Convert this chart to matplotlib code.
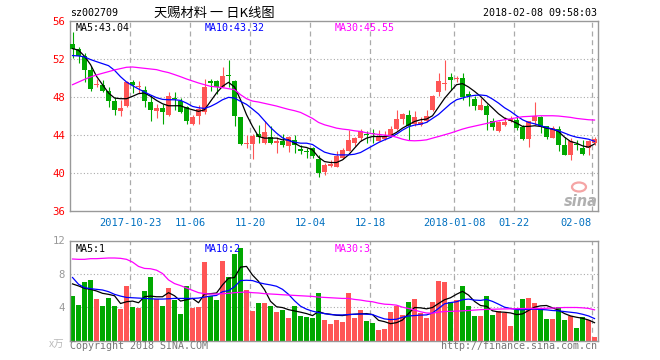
import matplotlib
matplotlib.use("Agg")
import matplotlib.pyplot as plt
from matplotlib.patches import Ellipse
import numpy as np

# ------------------------------------------------------------------ #
#  Data (price in 元, volume in 万手)                #
# ------------------------------------------------------------------ #

opens = [53.58, 53.05, 52.25, 50.77, 49.22, 49.26, 48.63, 47.58, 46.46, 47.05,
         49.51, 49.05, 48.74, 47.40, 46.46, 46.77, 46.07, 47.86, 47.50, 46.90,
         45.16, 45.93, 46.35, 49.60, 49.68, 49.02, 50.25, 49.68, 45.82, 43.00,
         43.05, 44.10, 43.12, 43.75, 43.12, 43.40, 42.84, 43.47, 42.53, 42.20,
         42.60, 41.47, 40.14, 40.74, 40.60, 41.54, 42.35, 43.19, 43.65, 44.10,
         44.12, 43.30, 43.54, 43.89, 44.60, 45.65, 46.10, 45.16, 45.05, 45.40,
         46.56, 48.46, 49.30, 50.07, 49.85, 49.96, 48.28, 47.75, 46.63, 47.05,
         45.50, 44.35, 45.05, 45.40, 45.58, 44.80, 43.54, 45.50, 45.86, 44.88,
         43.65, 44.60, 42.95, 41.90, 43.05, 42.60, 42.60, 43.12]
closes = [53.05, 52.25, 50.77, 48.84, 49.30, 48.63, 47.50, 46.56, 46.84, 49.51,
          49.20, 49.12, 47.51, 46.56, 46.77, 46.35, 48.04, 47.78, 46.35, 45.40,
          45.86, 46.74, 49.02, 49.44, 49.02, 50.20, 50.18, 45.93, 43.05, 43.05,
          43.89, 43.75, 44.25, 43.12, 43.40, 42.88, 43.75, 42.88, 42.25, 42.15,
          41.80, 40.03, 40.84, 40.95, 41.82, 42.42, 43.47, 43.65, 44.35, 44.00,
          44.05, 43.89, 43.89, 44.60, 45.65, 46.20, 44.95, 45.86, 45.30, 46.00,
          48.10, 49.61, 49.40, 49.72, 49.96, 47.93, 48.04, 47.05, 47.16, 46.03,
          44.77, 45.30, 45.30, 45.65, 44.70, 43.54, 45.40, 46.00, 44.88, 43.82,
          44.70, 42.95, 41.90, 43.40, 42.88, 42.00, 43.40, 43.54]
highs = [54.77, 53.20, 52.60, 51.20, 49.86, 49.80, 49.00, 48.00, 47.68, 49.60,
         49.80, 49.60, 49.09, 48.20, 47.26, 47.20, 48.46, 48.46, 47.86, 47.05,
         46.10, 47.16, 49.86, 49.86, 49.80, 51.12, 51.82, 49.80, 45.82, 44.00,
         44.10, 45.05, 45.50, 44.95, 43.75, 44.10, 43.90, 44.00, 42.95, 42.60,
         42.70, 41.90, 41.00, 41.37, 42.25, 42.60, 44.46, 43.75, 44.63, 44.42,
         44.60, 44.53, 44.35, 44.88, 46.63, 46.28, 46.63, 46.46, 45.86, 46.56,
         48.20, 50.50, 51.82, 50.50, 50.20, 50.50, 48.63, 48.04, 47.86, 47.26,
         45.75, 45.40, 45.86, 46.00, 46.00, 45.05, 45.40, 47.40, 46.00, 44.95,
         44.88, 44.88, 43.82, 43.65, 43.47, 43.47, 43.47, 43.75]
lows = [52.07, 51.54, 49.54, 48.63, 49.02, 48.46, 46.88, 46.10, 46.00, 46.88,
        48.40, 48.40, 46.91, 45.50, 45.72, 45.12, 45.93, 46.60, 46.28, 45.10,
        45.05, 45.12, 46.20, 48.60, 48.30, 49.00, 49.00, 44.95, 42.95, 42.60,
        41.44, 43.12, 43.05, 43.05, 42.14, 42.70, 42.18, 42.14, 42.00, 41.60,
        41.54, 39.60, 39.80, 40.60, 40.60, 41.44, 42.25, 42.84, 43.40, 43.12,
        43.10, 43.30, 43.47, 43.75, 44.46, 45.16, 43.47, 44.95, 44.88, 45.30,
        46.46, 48.04, 48.67, 48.74, 49.50, 47.68, 47.05, 46.63, 46.56, 44.46,
        44.46, 44.25, 44.88, 45.30, 44.46, 43.47, 42.70, 45.05, 44.18, 43.54,
        43.65, 42.35, 41.90, 41.37, 42.42, 41.90, 41.90, 42.95]

ma5 = [53.05, 52.88, 52.25, 51.37, 50.14, 49.26, 48.39, 47.86, 47.79, 47.79,
       48.04, 48.32, 48.39, 48.04, 47.61, 47.26, 47.05, 47.05, 47.05, 46.81,
       46.63, 46.46, 46.63, 47.51, 48.39, 49.09, 49.51, 49.02, 47.68, 46.11,
       44.88, 43.82, 43.65, 43.65, 43.65, 43.47, 43.47, 43.12, 42.77, 42.67,
       42.42, 41.65, 41.19, 41.09, 41.09, 41.37, 41.89, 42.60, 43.30, 43.65,
       43.82, 43.82, 43.82, 43.90, 44.25, 44.70, 45.05, 45.40, 45.58, 45.65,
       46.00, 46.91, 47.82, 48.56, 49.26, 49.37, 49.02, 48.56, 48.04, 47.40,
       46.81, 46.21, 45.75, 45.51, 45.23, 44.88, 44.88, 44.95, 44.88, 44.70,
       44.60, 44.35, 43.75, 43.30, 43.12, 42.84, 42.70, 43.04]
ma10 = [52.32, 52.28, 52.18, 51.90, 51.68, 51.47, 51.26, 50.77, 50.10, 49.54,
        49.16, 48.81, 48.49, 48.18, 47.90, 47.72, 47.68, 47.68, 47.61, 47.33,
        46.98, 46.84, 46.77, 46.98, 47.30, 47.68, 47.93, 47.86, 47.51, 47.19,
        46.70, 46.18, 45.47, 44.77, 44.18, 43.68, 43.40, 43.23, 43.12, 43.12,
        42.98, 42.56, 42.18, 42.00, 41.89, 41.89, 41.89, 41.96, 42.14, 42.49,
        42.84, 43.19, 43.47, 43.72, 44.07, 44.49, 44.84, 45.02, 45.12, 45.30,
        45.72, 46.14, 46.70, 47.26, 47.68, 47.86, 48.04, 48.14, 48.18, 48.11,
        47.75, 47.33, 46.84, 46.46, 46.00, 45.58, 45.30, 45.16, 44.95, 44.77,
        44.60, 44.42, 44.18, 43.93, 43.75, 43.65, 43.54, 43.32]
ma30 = [49.26, 49.54, 49.82, 50.07, 50.28, 50.46, 50.63, 50.81, 50.95, 51.09,
        51.12, 51.05, 50.98, 50.91, 50.84, 50.67, 50.53, 50.32, 50.10, 49.86,
        49.65, 49.44, 49.26, 49.09, 49.02, 48.95, 48.84, 48.74, 48.21, 47.79,
        47.54, 47.44, 47.30, 47.16, 47.02, 46.84, 46.67, 46.53, 46.35, 46.04,
        45.72, 45.30, 45.05, 44.88, 44.70, 44.60, 44.53, 44.42, 44.35, 44.21,
        44.11, 44.04, 43.97, 43.90, 43.75, 43.54, 43.40, 43.37, 43.40, 43.47,
        43.65, 43.82, 44.00, 44.18, 44.39, 44.60, 44.77, 44.91, 45.05, 45.19,
        45.33, 45.47, 45.58, 45.68, 45.79, 45.90, 45.93, 45.97, 46.00, 46.00,
        46.00, 45.97, 45.90, 45.83, 45.72, 45.65, 45.58, 45.55]

volume = [5.33, 4.24, 7.03, 7.27, 4.97, 4.12, 5.09, 4.12, 3.76, 6.55,
          4.00, 3.88, 5.94, 7.64, 4.97, 4.12, 6.30, 4.85, 3.13, 6.55,
          3.88, 4.00, 9.45, 5.33, 4.85, 9.58, 7.62, 10.42, 11.15, 6.06,
          3.52, 4.48, 4.48, 4.12, 3.39, 3.64, 2.67, 4.12, 2.91, 2.79,
          2.67, 5.70, 2.42, 1.94, 2.42, 2.18, 5.70, 2.67, 3.64, 2.30,
          2.06, 1.21, 1.33, 3.39, 4.12, 3.03, 4.61, 4.97, 3.27, 2.67,
          4.61, 7.15, 7.03, 4.61, 4.85, 6.55, 4.12, 2.91, 2.91, 5.33,
          3.03, 3.52, 3.27, 1.70, 3.64, 4.97, 5.09, 4.48, 3.64, 2.55,
          2.55, 4.00, 2.42, 2.91, 1.45, 2.79, 2.42, 0.48]
vol_ma5 = [6.79, 6.55, 6.26, 6.14, 5.94, 5.66, 5.54, 5.37, 4.44, 4.65,
           4.73, 4.53, 5.25, 5.33, 5.25, 5.25, 5.74, 5.37, 4.73, 4.89,
           5.05, 4.53, 5.58, 5.62, 5.70, 6.67, 7.47, 7.56, 8.81, 8.89,
           7.85, 7.10, 6.10, 4.70, 4.05, 3.95, 3.70, 3.55, 3.40, 3.23,
           2.99, 3.47, 3.23, 3.15, 3.03, 2.99, 3.11, 3.15, 3.19, 3.23,
           3.11, 2.42, 2.26, 2.02, 2.14, 2.46, 3.23, 3.96, 3.92, 3.80,
           3.96, 4.44, 4.89, 5.13, 5.55, 5.90, 5.45, 4.69, 4.20, 4.10,
           3.56, 3.43, 3.39, 3.31, 3.11, 3.19, 3.60, 4.00, 4.16, 4.20,
           3.92, 3.64, 3.23, 2.95, 2.79, 2.67, 2.46, 2.14]
vol_ma10 = [7.56, 6.75, 6.34, 6.22, 6.14, 6.06, 5.86, 5.54, 5.33, 5.17,
            5.13, 5.09, 5.05, 5.01, 4.97, 4.97, 5.01, 5.05, 5.05, 5.05,
            5.05, 5.09, 5.21, 5.33, 5.41, 5.86, 5.98, 6.46, 7.19, 7.23,
            7.19, 6.95, 6.79, 6.67, 6.51, 6.14, 5.54, 4.77, 4.12, 3.76,
            3.52, 3.35, 3.23, 3.11, 3.07, 3.07, 3.11, 3.15, 3.19, 3.15,
            3.11, 2.83, 2.59, 2.51, 2.55, 2.79, 2.95, 2.99, 3.05, 3.07,
            3.30, 3.85, 4.40, 4.55, 4.65, 4.89, 4.97, 4.85, 4.81, 4.93,
            4.69, 4.36, 4.00, 3.84, 3.72, 3.68, 3.76, 3.76, 3.72, 3.68,
            3.60, 3.56, 3.47, 3.39, 3.31, 3.15, 2.95, 2.63]
vol_ma30 = [9.78, 9.74, 9.74, 9.82, 9.82, 9.86, 9.90, 9.90, 9.86, 9.74,
            9.41, 8.89, 8.65, 8.61, 8.44, 8.04, 7.27, 6.83, 6.59, 6.30,
            6.02, 5.74, 5.62, 5.58, 5.58, 5.62, 5.66, 5.74, 5.78, 5.82,
            5.74, 5.70, 5.62, 5.58, 5.54, 5.49, 5.45, 5.41, 5.37, 5.33,
            5.29, 5.21, 5.17, 5.13, 5.09, 5.05, 5.05, 4.93, 4.85, 4.73,
            4.65, 4.48, 4.36, 4.32, 4.24, 4.00, 3.84, 3.66, 3.45, 3.30,
            3.28, 3.40, 3.48, 3.50, 3.52, 3.56, 3.60, 3.65, 3.70, 3.73,
            3.75, 3.77, 3.79, 3.80, 3.82, 3.84, 3.84, 3.84, 3.85, 3.87,
            3.89, 3.93, 3.96, 3.96, 3.96, 3.92, 3.85, 3.68]

# trading-day index of each labelled date, and its label
date_index = [10, 20, 30, 40, 50, 64, 74, 87]
date_labels = ["2017-10-23", "11-06", "11-20", "12-04", "12-18",
               "2018-01-08", "01-22", "02-08"]
price_ticks = [36, 40, 44, 48, 52, 56]
vol_ticks = [4, 8, 12]

# ------------------------------------------------------------------ #
#  Style                                                               #
# ------------------------------------------------------------------ #

RED = "#ff5555"
GREEN = "#00a800"
GRID = "#aaaaaa"
FRAME = "#999999"
MONO = "DejaVu Sans Mono"
CJK = ["Noto Sans CJK SC", "DejaVu Sans"]
FS = 7.2

plt.rcParams["font.family"] = MONO

W, H = 660, 360


def box(left, top, right, bottom):
    # pixel box -> figure fraction rect
    return [left / W, 1 - bottom / H, (right - left) / W, (bottom - top) / H]


def fig_xy(px, py):
    return px / W, 1 - py / H


fig = plt.figure(figsize=(6.6, 3.6), dpi=100)
ax = fig.add_axes(box(70, 20.5, 598, 211))
axv = fig.add_axes(box(70, 240.5, 598, 340.5))

o = np.array(opens)
c = np.array(closes)
x = np.arange(len(c))
colors = np.where(c >= o, RED, GREEN)
grid_x = [i - 0.42 for i in date_index]

for a in (ax, axv):
    a.set_xlim(-0.42, 87.58)
    for s in a.spines.values():
        s.set_color(FRAME)
        s.set_linewidth(1)
    for g in grid_x:
        a.axvline(g, color=GRID, lw=0.9, ls=(0, (4, 3)), zorder=0)
    a.tick_params(length=0)

# ---- price panel ----
ax.vlines(x, lows, highs, colors=colors, lw=0.8, zorder=2)
ax.bar(x, np.maximum(np.abs(c - o), 0.1), bottom=np.minimum(o, c),
       width=0.8, color=colors, linewidth=0, zorder=3)
ax.plot(x, ma5, color="black", lw=0.9, zorder=4)
ax.plot(x, ma10, color="#0000ff", lw=0.9, zorder=4)
ax.plot(x, ma30, color="#ff00ff", lw=0.9, zorder=4)
for lv in price_ticks[1:-1]:
    ax.axhline(lv, color=GRID, lw=0.8, ls=(0, (1, 2)), zorder=0)
ax.set_ylim(36, 56)
ax.set_yticks(price_ticks)
ax.set_yticklabels([str(t) for t in price_ticks])
ax.tick_params(axis="y", labelcolor="red", labelsize=FS + 0.5, pad=3.5)
ax.set_xticks(grid_x)
ax.set_xticklabels(date_labels)
ax.tick_params(axis="x", labelcolor="#0070c0", labelsize=FS + 0.3, pad=5)
ax.get_xticklabels()[-1].set_ha("right")

ax.text(0.01, 0.985, "MA5:43.04", transform=ax.transAxes, color="black",
        fontsize=FS, va="top", ha="left")
ax.text(135 / 528, 0.985, "MA10:43.32", transform=ax.transAxes, color="#0000ff",
        fontsize=FS, va="top", ha="left")
ax.text(265 / 528, 0.985, "MA30:45.55", transform=ax.transAxes, color="#ff00ff",
        fontsize=FS, va="top", ha="left")

# sina watermark
fig.add_artist(Ellipse(fig_xy(579, 187), 14 / W, 9 / H, transform=fig.transFigure,
                       facecolor="none", edgecolor="#f5a5a5", lw=1.6))
fig.text(*fig_xy(581, 201), "sina", color="#b0b0b0", fontsize=10.5,
         fontweight="bold", style="italic", family="DejaVu Sans",
         ha="center", va="center")

# ---- volume panel ----
axv.bar(x, volume, width=0.82, color=colors, linewidth=0, zorder=2)
axv.plot(x, vol_ma5, color="black", lw=0.9, zorder=4)
axv.plot(x, vol_ma10, color="#0000ff", lw=0.9, zorder=4)
axv.plot(x, vol_ma30, color="#ff00ff", lw=0.9, zorder=4)
for lv in vol_ticks[:-1]:
    axv.axhline(lv, color=GRID, lw=0.8, ls=(0, (1, 2)), zorder=0)
axv.set_ylim(0, 12)
axv.set_yticks(vol_ticks)
axv.set_yticklabels([str(t) for t in vol_ticks])
axv.tick_params(axis="y", labelcolor="#999999", labelsize=FS + 0.5, pad=3.5)
axv.set_xticks([])

axv.text(0.01, 0.97, "MA5:1", transform=axv.transAxes, color="black",
         fontsize=FS, va="top", ha="left")
axv.text(135 / 528, 0.97, "MA10:2", transform=axv.transAxes, color="#0000ff",
         fontsize=FS, va="top", ha="left")
axv.text(265 / 528, 0.97, "MA30:3", transform=axv.transAxes, color="#ff00ff",
         fontsize=FS, va="top", ha="left")

# ---- header / footer text ----
fig.text(*fig_xy(70, 13), "sz002709", fontsize=FS, va="center", ha="left")
fig.text(*fig_xy(214, 13), "天赐材料 一 日K线图", family=CJK, fontsize=9.5,
         va="center", ha="center")
fig.text(*fig_xy(597, 13), "2018-02-08 09:58:03", fontsize=FS,
         va="center", ha="right")
fig.text(*fig_xy(64, 345), "x万", family=CJK, color="#bbbbbb", fontsize=7.5,
         va="center", ha="right")
fig.text(*fig_xy(70, 346), "Copyright 2018 SINA.COM", color="#777777",
         fontsize=FS, va="center", ha="left")
fig.text(*fig_xy(597, 346), "http://finance.sina.com.cn", color="#777777",
         fontsize=FS, va="center", ha="right")

fig.savefig("out.png", dpi=100, facecolor="white")
